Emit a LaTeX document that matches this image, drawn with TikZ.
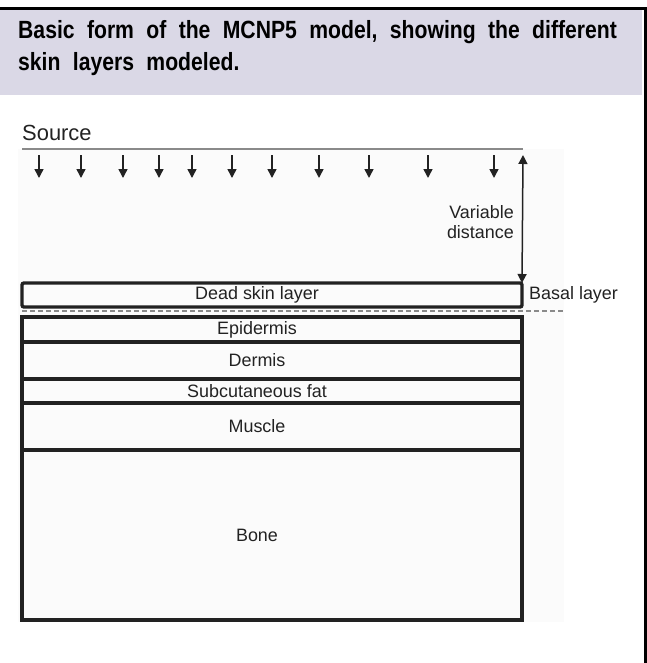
\documentclass[tikz,border=0pt]{standalone}
\usepackage{fontspec}
\setmainfont{Liberation Sans}
\newfontfamily\headfont[FakeStretch=0.85,WordSpace=2.1]{Liberation Sans}
\usetikzlibrary{arrows.meta,positioning}
\definecolor{band}{HTML}{DAD8E6}
\definecolor{ink}{HTML}{222222}
\definecolor{rule}{HTML}{8A8A8A}
\definecolor{paper}{HTML}{FBFBFB}

\begin{document}
\begin{tikzpicture}[x=1bp,y=-1bp,
layer/.style={draw=ink,line width=3.4bp,minimum width=500bp,inner sep=0pt,outer sep=0pt},
lbl/.style={font=\fontsize{18}{20}\selectfont,text=ink,xshift=-15bp},
txt/.style={font=\fontsize{18}{20}\selectfont,text=ink,inner sep=0pt},
ray/.style={-{Triangle[length=9bp,width=9bp]},line width=1.5bp,draw=ink},
span/.style={{Triangle[length=9bp,width=9bp]}-{Triangle[length=9bp,width=9bp]},line width=1.5bp,draw=ink}]
\useasboundingbox (0,0) rectangle (647,663);
% frame and caption band
\fill[band] (0,10) rectangle (642,95);
\draw[line width=3bp,black] (0,8.5) -- (645.5,8.5) -- (645.5,663);
\node[anchor=north west,inner sep=0pt,align=left,
  font=\headfont\bfseries\fontsize{25}{32}\selectfont] (title) at (18,20)
  {Basic form of the MCNP5 model, showing the different\\skin layers modeled.};
% model region
\fill[paper] (18,149) rectangle (564,622);
\node[anchor=base west,inner sep=0pt,font=\fontsize{22}{24}\selectfont,text=ink] (source) at (22,140) {Source};
\coordinate (srcL) at (22,149);
\coordinate (srcR) at (523,149);
\draw[rule,line width=2bp] (srcL) -- (srcR);
\foreach \x [count=\i] in {39,81,123,159,192,232,272,319,369,428,494}{
  \coordinate (r\i) at (\x,155);
  \coordinate (h\i) at (\x,178);
  \draw[ray] (r\i) -- (h\i);
}
% layers
\node[layer,rounded corners=2bp,minimum height=24bp,label={[lbl]center:Dead skin layer}] (dead) at (272,295) {};
\node[layer,minimum height=25bp,below=10bp of dead,label={[lbl]center:Epidermis}] (epi) {};
\node[layer,minimum height=37bp,below=0bp of epi,label={[lbl]center:Dermis}] (derm) {};
\node[layer,minimum height=24bp,below=0bp of derm,label={[lbl]center:Subcutaneous fat}] (fat) {};
\node[layer,minimum height=47bp,below=0bp of fat,label={[lbl]center:Muscle}] (muscle) {};
\node[layer,minimum height=170bp,below=0bp of muscle,label={[lbl]center:Bone}] (bone) {};
% distance and basal layer
\coordinate (top) at (523,155);
\draw[span] (top) -- (dead.north east);
\node[txt,align=right,anchor=east] (dist) at (514,222) {Variable\\distance};
\node[txt,right=7bp of dead] (basal) {Basal layer};
\coordinate (basL) at (22,311);
\coordinate (basR) at (564,311);
\draw[rule,line width=1.5bp,dash pattern=on 5bp off 3bp] (basL) -- (basR);
\end{tikzpicture}
\end{document}
